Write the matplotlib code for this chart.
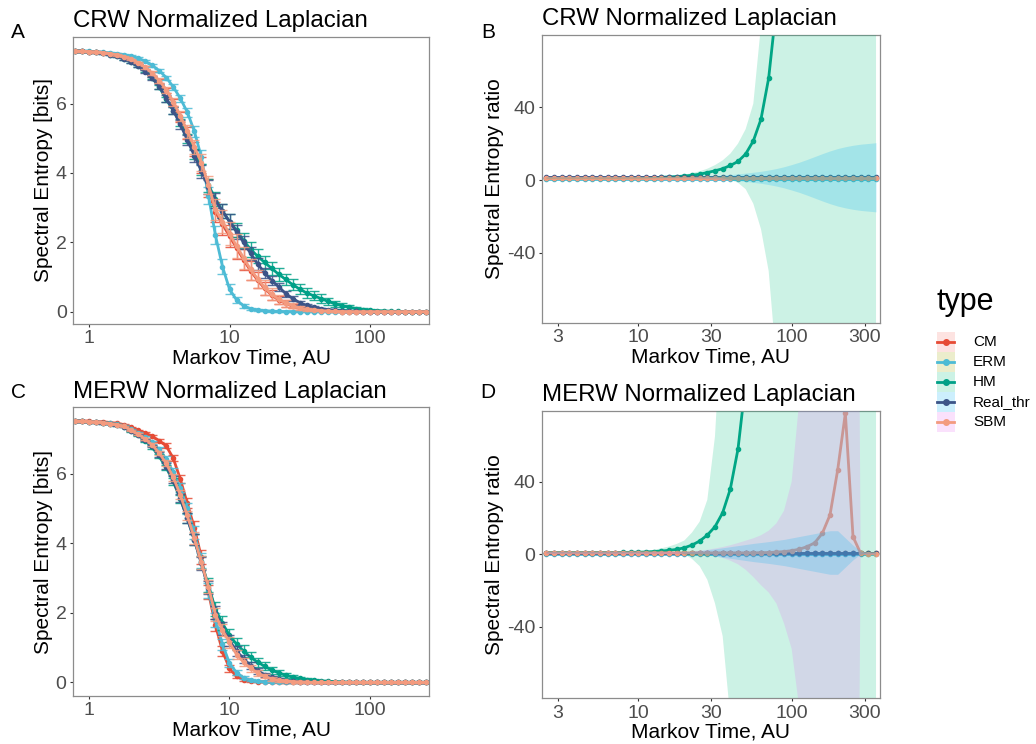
import numpy as np
import matplotlib
matplotlib.use("Agg")
import matplotlib.pyplot as plt
from matplotlib.patches import Rectangle
from matplotlib.ticker import NullLocator

plt.rcParams['font.family'] = ['Liberation Sans', 'DejaVu Sans']
plt.rcParams['axes.unicode_minus'] = False

types = ["CM", "ERM", "HM", "Real_thr", "SBM"]
line_colors = ["#E64B35", "#4DBBD5", "#00A087", "#3C5488", "#F39B7F"]
fill_colors = ["#F8766D", "#A3A500", "#00BF7D", "#00B0F6", "#E76BF3"]

# Markov times used for the entropy curves (panels A, C)
t_entropy = [0.794, 0.891, 1.0, 1.122, 1.259, 1.413, 1.585, 1.778, 1.995, 2.239,
             2.512, 2.818, 3.162, 3.548, 3.981, 4.467, 5.012, 5.623, 6.31, 7.079,
             7.943, 8.913, 10.0, 11.22, 12.59, 14.13, 15.85, 17.78, 19.95, 22.39,
             25.12, 28.18, 31.62, 35.48, 39.81, 44.67, 50.12, 56.23, 63.1, 70.79,
             79.43, 89.13, 100.0, 112.2, 125.9, 141.3, 158.5, 177.8, 199.5, 223.9, 251.2]

# Markov times used for the ratio curves (panels B, D)
t_ratio = [2.512, 2.818, 3.162, 3.548, 3.981, 4.467, 5.012, 5.623, 6.31, 7.079,
           7.943, 8.913, 10.0, 11.22, 12.59, 14.13, 15.85, 17.78, 19.95, 22.39,
           25.12, 28.18, 31.62, 35.48, 39.81, 44.67, 50.12, 56.23, 63.1, 70.79,
           79.43, 89.13, 100.0, 112.2, 125.9, 141.3, 158.5, 177.8, 199.5, 223.9,
           251.2, 281.8, 316.2, 354.8]

# ---- panel A: CRW spectral entropy (mean, sd) ----
crw_cm = [7.52, 7.51, 7.50, 7.49, 7.47, 7.44, 7.40, 7.35, 7.27, 7.17,
          7.04, 6.86, 6.64, 6.38, 6.03, 5.62, 5.16, 4.70, 4.22, 3.58,
          2.88, 2.52, 2.18, 1.84, 1.50, 1.18, 0.91, 0.67, 0.48, 0.34,
          0.24, 0.16, 0.10, 0.07, 0.04, 0.03, 0.02, 0.01, 0.005, 0.005,
          0.0, 0.0, 0.0, 0.0, 0.0, 0.0, 0.0, 0.0, 0.0, 0.0, 0.0]
crw_cm_sd = [0.02, 0.02, 0.02, 0.02, 0.02, 0.02, 0.02, 0.02, 0.02, 0.02,
             0.04, 0.05, 0.06, 0.08, 0.11, 0.14, 0.17, 0.20, 0.23, 0.26,
             0.28, 0.30, 0.31, 0.31, 0.30, 0.27, 0.23, 0.19, 0.15, 0.12,
             0.09, 0.06, 0.05, 0.04, 0.03, 0.02, 0.01, 0.01, 0.01, 0.01,
             0.01, 0.01, 0.01, 0.01, 0.01, 0.01, 0.01, 0.01, 0.01, 0.01, 0.01]
crw_erm = [7.52, 7.52, 7.51, 7.50, 7.48, 7.46, 7.44, 7.41, 7.37, 7.31,
           7.22, 7.10, 6.95, 6.75, 6.48, 6.15, 5.75, 5.20, 4.45, 3.35,
           2.20, 1.30, 0.65, 0.34, 0.17, 0.09, 0.05, 0.03, 0.015, 0.01,
           0.005, 0.005, 0.004, 0.003, 0.002, 0.002, 0.001, 0.001, 0.0, 0.0,
           0.0, 0.0, 0.0, 0.0, 0.0, 0.0, 0.0, 0.0, 0.0, 0.0, 0.0]
crw_erm_sd = [0.02, 0.02, 0.02, 0.02, 0.02, 0.02, 0.02, 0.02, 0.02, 0.02,
              0.03, 0.04, 0.05, 0.06, 0.08, 0.10, 0.13, 0.16, 0.20, 0.24,
              0.26, 0.22, 0.15, 0.09, 0.05, 0.03, 0.02, 0.02, 0.01, 0.01,
              0.01, 0.01, 0.01, 0.01, 0.01, 0.01, 0.01, 0.01, 0.01, 0.01,
              0.01, 0.01, 0.01, 0.01, 0.01, 0.01, 0.01, 0.01, 0.01, 0.01, 0.01]
crw_hm = [7.52, 7.51, 7.50, 7.48, 7.45, 7.41, 7.36, 7.29, 7.20, 7.08,
          6.93, 6.74, 6.48, 6.12, 5.80, 5.45, 5.00, 4.55, 4.10, 3.65,
          3.25, 2.90, 2.60, 2.35, 2.05, 1.80, 1.60, 1.42, 1.25, 1.08,
          0.93, 0.78, 0.65, 0.54, 0.46, 0.38, 0.30, 0.23, 0.17, 0.13,
          0.09, 0.06, 0.04, 0.03, 0.02, 0.01, 0.01, 0.005, 0.005, 0.0, 0.0]
crw_hm_sd = [0.02, 0.02, 0.02, 0.02, 0.02, 0.02, 0.02, 0.02, 0.02, 0.02,
             0.03, 0.04, 0.05, 0.07, 0.09, 0.11, 0.13, 0.15, 0.17, 0.19,
             0.20, 0.21, 0.21, 0.21, 0.21, 0.21, 0.20, 0.20, 0.19, 0.18,
             0.17, 0.16, 0.15, 0.14, 0.13, 0.12, 0.10, 0.09, 0.08, 0.07,
             0.06, 0.05, 0.04, 0.03, 0.03, 0.02, 0.02, 0.01, 0.01, 0.01, 0.01]
crw_real = [7.52, 7.51, 7.50, 7.48, 7.45, 7.41, 7.36, 7.29, 7.20, 7.08,
            6.92, 6.73, 6.50, 6.15, 5.80, 5.40, 4.95, 4.50, 4.05, 3.60,
            3.20, 2.90, 2.60, 2.30, 2.00, 1.68, 1.38, 1.12, 0.90, 0.72,
            0.52, 0.38, 0.26, 0.18, 0.13, 0.09, 0.06, 0.04, 0.025, 0.015,
            0.01, 0.005, 0.005, 0.0, 0.0, 0.0, 0.0, 0.0, 0.0, 0.0, 0.0]
crw_real_sd = [0.02, 0.02, 0.02, 0.02, 0.02, 0.02, 0.02, 0.02, 0.02, 0.02,
               0.04, 0.05, 0.07, 0.09, 0.11, 0.13, 0.15, 0.17, 0.19, 0.20,
               0.21, 0.21, 0.21, 0.20, 0.19, 0.18, 0.17, 0.15, 0.13, 0.11,
               0.09, 0.07, 0.06, 0.05, 0.04, 0.03, 0.02, 0.02, 0.01, 0.01,
               0.01, 0.01, 0.01, 0.01, 0.01, 0.01, 0.01, 0.01, 0.01, 0.01, 0.01]
crw_sbm = [7.52, 7.51, 7.50, 7.49, 7.47, 7.44, 7.40, 7.35, 7.28, 7.18,
           7.05, 6.88, 6.66, 6.40, 6.05, 5.65, 5.20, 4.75, 4.30, 3.65,
           2.95, 2.60, 2.25, 1.90, 1.55, 1.22, 0.95, 0.70, 0.50, 0.36,
           0.25, 0.17, 0.11, 0.07, 0.05, 0.03, 0.02, 0.01, 0.005, 0.005,
           0.0, 0.0, 0.0, 0.0, 0.0, 0.0, 0.0, 0.0, 0.0, 0.0, 0.0]
crw_sbm_sd = [0.02, 0.02, 0.02, 0.02, 0.02, 0.02, 0.02, 0.02, 0.02, 0.02,
              0.04, 0.05, 0.07, 0.09, 0.12, 0.15, 0.18, 0.21, 0.24, 0.27,
              0.30, 0.32, 0.34, 0.34, 0.33, 0.30, 0.26, 0.22, 0.17, 0.13,
              0.10, 0.07, 0.05, 0.04, 0.03, 0.02, 0.01, 0.01, 0.01, 0.01,
              0.01, 0.01, 0.01, 0.01, 0.01, 0.01, 0.01, 0.01, 0.01, 0.01, 0.01]

# ---- panel C: MERW spectral entropy (mean, sd) ----
merw_cm = [7.52, 7.52, 7.51, 7.50, 7.49, 7.47, 7.45, 7.41, 7.33, 7.25,
           7.17, 7.08, 6.95, 6.80, 6.45, 5.85, 5.15, 4.45, 3.60, 2.60,
           1.65, 0.90, 0.40, 0.17, 0.08, 0.04, 0.02, 0.01, 0.005, 0.0,
           0.0, 0.0, 0.0, 0.0, 0.0, 0.0, 0.0, 0.0, 0.0, 0.0,
           0.0, 0.0, 0.0, 0.0, 0.0, 0.0, 0.0, 0.0, 0.0, 0.0, 0.0]
merw_cm_sd = [0.02, 0.02, 0.02, 0.02, 0.02, 0.02, 0.02, 0.02, 0.02, 0.02,
              0.03, 0.04, 0.05, 0.07, 0.09, 0.12, 0.15, 0.18, 0.20, 0.20,
              0.18, 0.14, 0.09, 0.05, 0.03, 0.02, 0.01, 0.01, 0.01, 0.01,
              0.01, 0.01, 0.01, 0.01, 0.01, 0.01, 0.01, 0.01, 0.01, 0.01,
              0.01, 0.01, 0.01, 0.01, 0.01, 0.01, 0.01, 0.01, 0.01, 0.01, 0.01]
merw_erm = [7.52, 7.51, 7.50, 7.49, 7.47, 7.45, 7.42, 7.38, 7.28, 7.18,
            7.05, 6.90, 6.70, 6.42, 6.05, 5.60, 5.00, 4.30, 3.50, 2.65,
            1.80, 1.10, 0.55, 0.28, 0.13, 0.06, 0.03, 0.015, 0.01, 0.005,
            0.0, 0.0, 0.0, 0.0, 0.0, 0.0, 0.0, 0.0, 0.0, 0.0,
            0.0, 0.0, 0.0, 0.0, 0.0, 0.0, 0.0, 0.0, 0.0, 0.0, 0.0]
merw_erm_sd = [0.02, 0.02, 0.02, 0.02, 0.02, 0.02, 0.02, 0.02, 0.02, 0.02,
               0.03, 0.04, 0.06, 0.08, 0.10, 0.13, 0.16, 0.19, 0.21, 0.22,
               0.20, 0.16, 0.11, 0.07, 0.04, 0.03, 0.02, 0.01, 0.01, 0.01,
               0.01, 0.01, 0.01, 0.01, 0.01, 0.01, 0.01, 0.01, 0.01, 0.01,
               0.01, 0.01, 0.01, 0.01, 0.01, 0.01, 0.01, 0.01, 0.01, 0.01, 0.01]
merw_hm = [7.52, 7.51, 7.50, 7.48, 7.46, 7.44, 7.40, 7.35, 7.22, 7.10,
           6.95, 6.76, 6.50, 6.18, 5.78, 5.28, 4.72, 4.10, 3.45, 2.80,
           2.10, 1.70, 1.35, 1.10, 0.90, 0.72, 0.58, 0.46, 0.35, 0.27,
           0.20, 0.15, 0.11, 0.08, 0.06, 0.04, 0.03, 0.02, 0.01, 0.005,
           0.0, 0.0, 0.0, 0.0, 0.0, 0.0, 0.0, 0.0, 0.0, 0.0, 0.0]
merw_hm_sd = [0.02, 0.02, 0.02, 0.02, 0.02, 0.02, 0.02, 0.02, 0.02, 0.02,
              0.03, 0.04, 0.06, 0.08, 0.10, 0.12, 0.14, 0.16, 0.18, 0.19,
              0.20, 0.20, 0.19, 0.18, 0.17, 0.15, 0.13, 0.12, 0.10, 0.09,
              0.07, 0.06, 0.05, 0.04, 0.03, 0.03, 0.02, 0.02, 0.01, 0.01,
              0.01, 0.01, 0.01, 0.01, 0.01, 0.01, 0.01, 0.01, 0.01, 0.01, 0.01]
merw_real = [7.52, 7.51, 7.50, 7.48, 7.46, 7.44, 7.40, 7.35, 7.24, 7.12,
             6.97, 6.80, 6.55, 6.22, 5.82, 5.30, 4.72, 4.10, 3.42, 2.72,
             2.00, 1.55, 1.20, 0.90, 0.68, 0.48, 0.33, 0.22, 0.14, 0.09,
             0.05, 0.03, 0.02, 0.01, 0.005, 0.0, 0.0, 0.0, 0.0, 0.0,
             0.0, 0.0, 0.0, 0.0, 0.0, 0.0, 0.0, 0.0, 0.0, 0.0, 0.0]
merw_real_sd = [0.02, 0.02, 0.02, 0.02, 0.02, 0.02, 0.02, 0.02, 0.02, 0.02,
                0.03, 0.04, 0.06, 0.08, 0.10, 0.12, 0.14, 0.16, 0.18, 0.19,
                0.19, 0.18, 0.16, 0.14, 0.12, 0.10, 0.08, 0.06, 0.05, 0.04,
                0.03, 0.02, 0.02, 0.01, 0.01, 0.01, 0.01, 0.01, 0.01, 0.01,
                0.01, 0.01, 0.01, 0.01, 0.01, 0.01, 0.01, 0.01, 0.01, 0.01, 0.01]
merw_sbm = [7.52, 7.51, 7.50, 7.49, 7.47, 7.44, 7.41, 7.36, 7.25, 7.14,
            7.00, 6.83, 6.60, 6.30, 5.90, 5.40, 4.80, 4.15, 3.45, 2.75,
            1.95, 1.50, 1.15, 0.80, 0.58, 0.40, 0.27, 0.17, 0.10, 0.06,
            0.04, 0.02, 0.01, 0.005, 0.0, 0.0, 0.0, 0.0, 0.0, 0.0,
            0.0, 0.0, 0.0, 0.0, 0.0, 0.0, 0.0, 0.0, 0.0, 0.0, 0.0]
merw_sbm_sd = [0.02, 0.02, 0.02, 0.02, 0.02, 0.02, 0.02, 0.02, 0.02, 0.02,
               0.03, 0.04, 0.06, 0.08, 0.10, 0.12, 0.14, 0.16, 0.18, 0.19,
               0.19, 0.18, 0.16, 0.14, 0.12, 0.10, 0.08, 0.06, 0.05, 0.04,
               0.03, 0.02, 0.02, 0.01, 0.01, 0.01, 0.01, 0.01, 0.01, 0.01,
               0.01, 0.01, 0.01, 0.01, 0.01, 0.01, 0.01, 0.01, 0.01, 0.01, 0.01]

# ---- panel B: CRW spectral entropy ratio ----
crw_ratio_cm = [1.0, 1.0, 1.0, 1.0, 1.0, 1.0, 1.0, 1.0, 1.0, 1.0,
                1.0, 1.0, 1.0, 1.0, 1.0, 1.0, 1.0, 1.0, 1.0, 1.0,
                1.0, 1.0, 1.0, 1.0, 1.0, 1.0, 1.0, 1.0, 1.0, 1.0,
                1.0, 1.0, 1.0, 1.0, 1.0, 1.0, 1.0, 1.0, 1.0, 1.0,
                1.0, 1.0, 1.0, 1.0]
crw_ratio_erm = [0.3, 0.3, 0.3, 0.3, 0.3, 0.3, 0.3, 0.3, 0.3, 0.3,
                 0.3, 0.3, 0.3, 0.3, 0.3, 0.3, 0.3, 0.3, 0.3, 0.3,
                 0.3, 0.3, 0.3, 0.3, 0.3, 0.3, 0.3, 0.3, 0.3, 0.3,
                 0.3, 0.3, 0.3, 0.3, 0.3, 0.3, 0.3, 0.3, 0.3, 0.3,
                 0.3, 0.3, 0.3, 0.3]
crw_ratio_hm = [1.0, 1.0, 1.0, 1.0, 1.0, 1.0, 1.0, 1.0, 1.0, 1.0,
                1.05, 1.1, 1.15, 1.25, 1.35, 1.5, 1.7, 1.9, 2.2, 2.6,
                3.2, 4.1, 5.1, 6.2, 8.0, 10.2, 14.3, 21.5, 33.5, 56,
                95, 160, 270, 450, 750, 1200, 1900, 3000, 4700, 7000,
                10500, 15000, 21000, 29000]
crw_ratio_hm_hi = [1.3, 1.3, 1.3, 1.3, 1.3, 1.3, 1.3, 1.3, 1.3, 1.3,
                   1.35, 1.4, 1.5, 1.6, 1.7, 1.85, 2.0, 2.4, 3.0, 3.8,
                   4.8, 6.2, 8.2, 10.8, 14.5, 20, 28, 42, 85, 160,
                   300, 500, 800, 1300, 2000, 3000, 4500, 7000, 10000, 15000,
                   22000, 30000, 42000, 58000]
crw_ratio_hm_lo = [0.7, 0.7, 0.7, 0.7, 0.7, 0.7, 0.7, 0.7, 0.7, 0.7,
                   0.75, 0.8, 0.8, 0.9, 1.0, 1.1, 1.2, 1.3, 1.4, 1.5,
                   1.5, 1.5, 1.4, 1.0, 0.0, -1.5, -5, -13, -27, -50,
                   -100, -180, -300, -500, -800, -1200, -1900, -3000, -4500, -7000,
                   -10000, -14000, -19000, -26000]
crw_ratio_real = [1.5, 1.5, 1.5, 1.5, 1.5, 1.5, 1.5, 1.5, 1.5, 1.5,
                  1.5, 1.5, 1.5, 1.5, 1.5, 1.5, 1.5, 1.5, 1.5, 1.5,
                  1.5, 1.5, 1.5, 1.5, 1.5, 1.5, 1.5, 1.5, 1.5, 1.5,
                  1.5, 1.5, 1.5, 1.5, 1.5, 1.5, 1.5, 1.5, 1.5, 1.5,
                  1.5, 1.5, 1.5, 1.5]
crw_ratio_real_sd = [0.3, 0.3, 0.3, 0.3, 0.3, 0.3, 0.3, 0.3, 0.3, 0.3,
                     0.3, 0.3, 0.3, 0.3, 0.3, 0.3, 0.3, 0.3, 0.3, 0.4,
                     0.5, 0.7, 0.9, 1.2, 1.5, 1.9, 2.3, 2.8, 3.3, 4.0,
                     4.8, 5.8, 7.0, 8.3, 9.8, 11.4, 13.0, 14.5, 15.8, 16.8,
                     17.6, 18.2, 18.6, 19.0]
crw_ratio_sbm = [1.0, 1.0, 1.0, 1.0, 1.0, 1.0, 1.0, 1.0, 1.0, 1.0,
                 1.0, 1.0, 1.0, 1.0, 1.0, 1.0, 1.0, 1.0, 1.0, 1.0,
                 1.0, 1.0, 1.0, 1.0, 1.0, 1.0, 1.0, 1.0, 1.0, 1.0,
                 1.0, 1.0, 1.0, 1.0, 1.0, 1.0, 1.0, 1.0, 1.0, 1.0,
                 1.0, 1.0, 1.0, 1.0]

# ---- panel D: MERW spectral entropy ratio ----
merw_ratio_cm = [1.0, 1.0, 1.0, 1.0, 1.0, 1.0, 1.0, 1.0, 1.0, 1.0,
                 1.0, 1.0, 1.0, 1.0, 1.0, 1.0, 1.0, 1.0, 1.0, 1.0,
                 1.0, 1.0, 1.0, 1.0, 1.0, 1.0, 1.0, 1.0, 1.0, 1.0,
                 1.0, 1.0, 1.0, 1.0, 1.0, 1.0, 1.0, 1.0, 1.0, 1.0,
                 1.0, 1.0, 1.0, 1.0]
merw_ratio_erm = [0.3, 0.3, 0.3, 0.3, 0.3, 0.3, 0.3, 0.3, 0.3, 0.3,
                  0.3, 0.3, 0.3, 0.3, 0.3, 0.3, 0.3, 0.3, 0.3, 0.3,
                  0.3, 0.3, 0.3, 0.3, 0.3, 0.3, 0.3, 0.3, 0.3, 0.3,
                  0.3, 0.3, 0.3, 0.3, 0.3, 0.3, 0.3, 0.3, 0.3, 0.3,
                  0.3, 0.3, 0.3, 0.3]
merw_ratio_hm = [1.0, 1.0, 1.0, 1.0, 1.0, 1.0, 1.0, 1.0, 1.0, 1.0,
                 1.05, 1.1, 1.15, 1.3, 1.5, 1.8, 2.2, 2.7, 3.6, 5.1,
                 7.3, 10.6, 15.2, 22.9, 36, 58, 95, 160, 260, 420,
                 650, 1000, 1500, 2200, 3200, 4500, 6300, 8700, 12000, 16000,
                 21000, 28000, 37000, 48000]
merw_ratio_hm_hi = [1.4, 1.4, 1.4, 1.4, 1.4, 1.4, 1.4, 1.4, 1.4, 1.4,
                    1.45, 1.5, 1.55, 1.7, 2.5, 3.3, 4.3, 5.7, 7.6, 12,
                    18, 30, 65, 140, 300, 500, 800, 1200, 1800, 2600,
                    3600, 5000, 7000, 9500, 13000, 17000, 22000, 28000, 36000, 46000,
                    58000, 72000, 90000, 110000]
merw_ratio_hm_lo = [0.6, 0.6, 0.6, 0.6, 0.6, 0.6, 0.6, 0.6, 0.6, 0.6,
                    0.65, 0.7, 0.75, 0.9, 1.1, 1.4, 1.8, 1.5, 0.0, -2.5,
                    -6.5, -14, -27, -45, -90, -200, -400, -700, -1100, -1600,
                    -2300, -3200, -4400, -6000, -8000, -10500, -13500, -17000, -21500, -27000,
                    -34000, -42000, -52000, -64000]
merw_ratio_real = [1.0, 1.0, 1.0, 1.0, 1.0, 1.0, 1.0, 1.0, 1.0, 1.0,
                   1.0, 1.0, 1.0, 1.0, 1.0, 1.0, 1.0, 1.0, 1.0, 1.0,
                   1.0, 1.0, 1.0, 1.0, 1.0, 1.0, 1.0, 1.0, 1.0, 1.0,
                   1.0, 1.0, 1.0, 1.0, 1.0, 1.0, 1.0, 1.0, 1.0, 1.0,
                   1.0, 1.0, 1.0, 1.0]
merw_ratio_real_sd = [0.3, 0.3, 0.3, 0.3, 0.3, 0.3, 0.3, 0.3, 0.3, 0.3,
                      0.3, 0.3, 0.3, 0.3, 0.3, 0.3, 0.3, 0.3, 0.3, 0.6,
                      1.0, 1.5, 2.0, 2.6, 3.2, 3.8, 4.4, 5.0, 5.5, 6.0,
                      6.6, 7.2, 8.0, 8.8, 9.6, 10.4, 11.2, 12.0, 12.0, 8.0,
                      4.0, 0.8, 0.3, 0.3]
merw_ratio_sbm = [0.8, 0.8, 0.8, 0.8, 0.8, 0.8, 0.8, 0.8, 0.8, 0.8,
                  0.8, 0.8, 0.8, 0.8, 0.8, 0.8, 0.8, 0.8, 0.8, 0.8,
                  0.8, 0.8, 0.8, 0.8, 0.8, 0.8, 0.8, 0.8, 0.9, 1.0,
                  1.2, 1.5, 2.0, 2.8, 4.2, 6.3, 11.6, 21.7, 46.4, 77.7,
                  9.7, 0.5, 0.3, 0.3]
merw_ratio_sbm_hi = [1.3, 1.3, 1.3, 1.3, 1.3, 1.3, 1.3, 1.3, 1.3, 1.3,
                     1.3, 1.3, 1.3, 1.3, 1.3, 1.3, 1.3, 1.3, 1.3, 1.5,
                     2.0, 2.5, 3.2, 4.0, 5.0, 6.2, 7.5, 8.8, 10.5, 13,
                     17, 24, 40, 85, 180, 300, 400, 500, 600, 700,
                     600, 1.0, 0.8, 0.8]
merw_ratio_sbm_lo = [0.3, 0.3, 0.3, 0.3, 0.3, 0.3, 0.3, 0.3, 0.3, 0.3,
                     0.3, 0.3, 0.3, 0.3, 0.3, 0.3, 0.3, 0.3, 0.3, 0.3,
                     0.3, 0.3, -1, -2, -3.5, -5.5, -8.5, -12.5, -17, -21,
                     -27, -38, -52, -85, -180, -300, -400, -450, -500, -550,
                     -550, 0.0, -0.2, -0.2]

TICK_GREY = "#4D4D4D"


def style_panel(ax, xlim, ylim, xticks, yticks, ylabel, title):
    ax.set_xscale("log")
    ax.set_xlim(*xlim)
    ax.set_ylim(*ylim)
    ax.set_xticks(xticks)
    ax.set_xticklabels([str(v) for v in xticks])
    ax.xaxis.set_minor_locator(NullLocator())
    ax.set_yticks(yticks)
    ax.tick_params(colors="#333333", labelcolor=TICK_GREY, labelsize=14,
                   length=2.5, width=0.8, pad=2)
    for s in ax.spines.values():
        s.set_color("#8C8C8C")
        s.set_linewidth(0.9)
    ax.set_xlabel("Markov Time, AU", fontsize=15, labelpad=1)
    ax.set_ylabel(ylabel, fontsize=15, labelpad=2)
    ax.set_title(title, loc="left", fontsize=17.3, pad=7)


def draw_entropy(ax, means, sds):
    for k, (m, s) in enumerate(zip(means, sds)):
        z = 2 + k * 0.1
        ax.errorbar(t_entropy, m, yerr=s, fmt="none", ecolor=line_colors[k],
                    elinewidth=1, capsize=3.5, capthick=1, alpha=0.85, zorder=z)
        ax.plot(t_entropy, m, color=line_colors[k], lw=2, marker="o", ms=3, zorder=z + 0.05)


def draw_ratio(ax, means, ribbons):
    for k, m in enumerate(means):
        ax.plot(t_ratio, m, color=line_colors[k], lw=2, marker="o", ms=3, zorder=2 + k * 0.1)
    for k, lo, hi in ribbons:
        ax.fill_between(t_ratio, lo, hi, color=fill_colors[k], alpha=0.2, lw=0, zorder=3)


fig = plt.figure(figsize=(10.36, 7.44), dpi=100)

W, H = 1036.0, 744.0
def box(l, t, r, b):
    return [l / W, 1 - b / H, (r - l) / W, (b - t) / H]

axA = fig.add_axes(box(73, 37, 429, 324))
axB = fig.add_axes(box(541.7, 35, 880, 322.7))
axC = fig.add_axes(box(72.7, 407.3, 429.3, 695.7))
axD = fig.add_axes(box(541.7, 410.7, 880, 698.3))

draw_entropy(axA, [crw_cm, crw_erm, crw_hm, crw_real, crw_sbm],
             [crw_cm_sd, crw_erm_sd, crw_hm_sd, crw_real_sd, crw_sbm_sd])
draw_entropy(axC, [merw_cm, merw_erm, merw_hm, merw_real, merw_sbm],
             [merw_cm_sd, merw_erm_sd, merw_hm_sd, merw_real_sd, merw_sbm_sd])

real_b = np.array(crw_ratio_real)
sd_b = np.array(crw_ratio_real_sd)
draw_ratio(axB, [crw_ratio_cm, crw_ratio_erm, crw_ratio_hm, crw_ratio_real, crw_ratio_sbm],
           [(2, crw_ratio_hm_lo, crw_ratio_hm_hi), (3, real_b - sd_b, real_b + sd_b)])

real_d = np.array(merw_ratio_real)
sd_d = np.array(merw_ratio_real_sd)
draw_ratio(axD, [merw_ratio_cm, merw_ratio_erm, merw_ratio_hm, merw_ratio_real, merw_ratio_sbm],
           [(2, merw_ratio_hm_lo, merw_ratio_hm_hi), (4, merw_ratio_sbm_lo, merw_ratio_sbm_hi),
            (3, real_d - sd_d, real_d + sd_d)])

style_panel(axA, (0.769, 263), (-0.354, 7.92), [1, 10, 100], [0, 2, 4, 6],
            "Spectral Entropy [bits]", "CRW Normalized Laplacian")
style_panel(axC, (0.769, 263), (-0.385, 7.91), [1, 10, 100], [0, 2, 4, 6],
            "Spectral Entropy [bits]", "MERW Normalized Laplacian")
style_panel(axB, (2.344, 376.7), (-78.4, 79.7), [3, 10, 30, 100, 300], [-40, 0, 40],
            "Spectral Entropy ratio", "CRW Normalized Laplacian")
style_panel(axD, (2.344, 376.7), (-79.3, 79.1), [3, 10, 30, 100, 300], [-40, 0, 40],
            "Spectral Entropy ratio", "MERW Normalized Laplacian")

for letter, x, y in [("A", 18, 33), ("B", 488, 33), ("C", 18, 392), ("D", 488, 392)]:
    fig.text(x / W, 1 - y / H, letter, fontsize=15, ha="center", va="center")

# legend drawn in its own pixel-space axes
leg = fig.add_axes(box(925, 280, 1036, 440))
leg.set_xlim(925, 1036)
leg.set_ylim(440, 280)
leg.axis("off")
leg.text(937, 301.7, "type", fontsize=22, ha="left", va="center")
key_w, key_h, row0 = 18, 20, 341.7
for k, name in enumerate(types):
    yc = row0 + k * key_h
    leg.add_patch(Rectangle((937, yc - key_h / 2), key_w, key_h,
                            facecolor=fill_colors[k], alpha=0.2, edgecolor="none"))
    leg.plot([937.5, 946, 954.5], [yc, yc, yc], color=line_colors[k], lw=2,
             marker="o", ms=4, markevery=[1])
    leg.text(973, yc, name, fontsize=11, ha="left", va="center")

fig.savefig("out.png", dpi=100)
